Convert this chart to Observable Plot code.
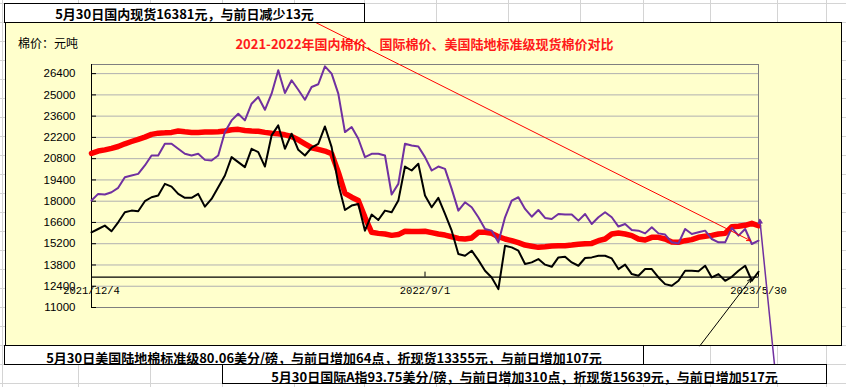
<!DOCTYPE html>
<html><head><meta charset="utf-8">
<script src="https://cdn.jsdelivr.net/npm/d3@7"></script>
<script src="https://cdn.jsdelivr.net/npm/@observablehq/plot@0.6"></script>
<style>
html,body{margin:0;padding:0;}
body{width:846px;height:387px;position:relative;overflow:hidden;background:#fff;font-family:"Noto Sans CJK SC",sans-serif;}
#cells{position:absolute;left:0;top:0;width:846px;height:387px;background-image:linear-gradient(to bottom,#d4d4d4 0,#d4d4d4 1px,transparent 1px);background-size:100% 19px;background-position:0 3px;}
.vcell{position:absolute;top:0;width:1px;height:387px;background:#d4d4d4;}
#area{position:absolute;left:5px;top:22px;width:837px;height:324px;background:#FFFFCC;border:1px solid #000;box-sizing:border-box;}
#chart{position:absolute;left:0;top:0;}
.box{position:absolute;background:#fff;border:1px solid #000;box-sizing:border-box;text-align:center;font-weight:bold;font-size:13px;white-space:nowrap;color:#000;line-height:19px;}
#unit{position:absolute;left:18px;top:34px;font-size:12px;color:#000;}
#title{position:absolute;left:0;width:849px;top:34px;text-align:center;font-size:13px;font-weight:bold;color:#ff1a1a;white-space:nowrap;}
</style>
</head><body>
<div id="cells"></div>
<div id="area"></div>
<div id="unit">棉价：元吨</div>
<div id="title">2021-2022年国内棉价、国际棉价、美国陆地标准级现货棉价对比</div>
<div id="chart"></div>
<div class="box" id="top" style="left:4px;top:3px;width:361px;height:20px;">5月30日国内现货16381元，与前日减少13元</div>
<div class="box" id="b1" style="left:4px;top:345px;width:640px;height:20px;line-height:23px;">5月30日美国陆地棉标准级80.06美分/磅，与前日增加64点，折现货13355元，与前日增加107元</div>
<div class="box" id="b2" style="left:222px;top:364px;width:605px;height:20px;line-height:23px;">5月30日国际A指93.75美分/磅，与前日增加310点，折现货15639元，与前日增加517元</div>
<script>
// ---- data (101 samples evenly spaced in time) ----
const dateLabels = ["2021/12/4", "2022/9/1", "2023/5/30"];
const dateTickIndex = [0, 50, 100];
const yTicks = [11000, 12400, 13800, 15200, 16600, 18000, 19400, 20800, 22200, 23600, 25000, 26400];
const yDomain = [11000, 27000];
const axisCross = 13000;

// 国内现货 (red)
const domestic = [21150,21300,21380,21480,21600,21780,21930,22070,22220,22400,
22480,22500,22530,22620,22570,22530,22530,22550,22550,22570,
22620,22700,22730,22660,22620,22600,22530,22480,22440,22370,
22260,22040,21780,21520,21410,21300,21120,19910,18520,18260,
18040,16940,15950,15880,15840,15750,15800,16020,16000,16000,
16020,15930,15840,15770,15660,15550,15510,15580,15950,15950,
15880,15660,15510,15400,15270,15110,15030,14960,15000,15050,
15070,15070,15110,15160,15200,15220,15400,15510,15840,15910,
15840,15730,15510,15440,15620,15620,15510,15310,15290,15400,
15470,15620,15690,15750,15840,15880,16320,16350,16410,16540,16381];

// 国际A指折现货 (purple)
const international = [18040,18480,18440,18590,18880,19580,19690,19800,20350,21010,
21010,21780,21780,21450,21120,21010,21120,20720,20680,21010,
22550,23320,23760,23320,24420,24860,24020,25080,26620,25120,
25960,25340,24680,25520,25700,26880,26400,25080,22550,22880,
22110,20900,21120,21120,21010,18440,19140,21780,21670,21600,
20900,20020,20280,20130,18810,17380,17930,17600,16940,16170,
16060,15290,16940,18040,18260,17490,16980,17420,16900,16830,
17160,17120,17120,16720,17160,16500,16940,17270,16940,16330,
16500,16100,16060,15880,16280,15880,15800,15290,15220,16170,
15840,15950,16060,15510,15290,15290,16240,15730,16170,15180,15400];

// 美国陆地棉标准级折现货 (black)
const usUpland = [15950,16170,16390,16020,16610,17270,17380,17340,18000,18260,
18370,19140,18960,18480,18220,18220,18480,17640,18150,18920,
19690,20900,20570,20240,21450,21230,20280,22330,22990,21450,
22440,21380,21010,21520,21780,22920,21560,19140,17420,17710,
17820,16060,17120,16760,17380,17270,18040,20280,20020,20460,
18370,17600,18220,17160,16060,14520,14410,14740,14120,13420,
12980,12210,15070,14960,14740,13860,13970,14190,13820,13680,
14300,14340,13970,13750,14260,14300,14410,14410,14230,13530,
13820,13200,13090,13530,13530,12980,12540,12430,12760,13420,
13420,13380,13750,12980,13200,12760,13020,13420,13750,12760,13355];

// callout connector lines (data space: sample index, price)
const callouts = [
  {x1: 33.5, y1: 29790, x2: 98.8, y2: 15400, color: "#ff0000", w: 1},
  {x1: 91.2, y1: 8470, x2: 98.9, y2: 12890, color: "#000000", w: 1},
  {x1: 102.4, y1: 7220, x2: 100.2, y2: 16790, color: "#7030a0", w: 1.5}
];

// ---- build ----
const idx = domestic.map((_, i) => i);
const rows = (arr) => arr.map((v, i) => ({i: idx[i], v}));

// spreadsheet column lines
const colLines = [2, 78, 150, 222, 294, 364, 436, 508, 580, 643, 710, 777, 826];
for (const c of colLines) {
  const d = document.createElement("div");
  d.className = "vcell"; d.style.left = c + "px";
  document.getElementById("cells").appendChild(d);
}

const plot = Plot.plot({
  width: 846, height: 387,
  marginLeft: 91, marginRight: 88, marginTop: 64, marginBottom: 80,
  x: {domain: [0, 100], axis: null},
  y: {domain: yDomain, axis: null},
  style: {background: "transparent", overflow: "visible", fontFamily: "'Liberation Sans', Arial, sans-serif", color: "#000"},
  marks: [
    Plot.gridY(yTicks.slice(1), {stroke: "#b0b0b0", strokeOpacity: 1}),
    Plot.frame({stroke: "#7f7f7f"}),
    Plot.ruleX([0], {stroke: "#000"}),
    Plot.ruleY(yTicks, {x1: 0, x2: 0.75, stroke: "#000"}),
    Plot.axisY(yTicks, {tickSize: 0, tickPadding: 16, fontSize: 11.5, label: null, tickFormat: d => String(d)}),
    Plot.ruleY([axisCross], {stroke: "#000", strokeWidth: 1.4}),
    Plot.ruleX(dateTickIndex, {y1: axisCross, y2: axisCross + 330, stroke: "#000"}),
    Plot.text(dateTickIndex, {x: d => d, y: axisCross, text: (d, i) => dateLabels[i], dy: 13, fontFamily: "'Liberation Mono', monospace", fontSize: 10.5, fill: "#000"}),
    Plot.line(rows(domestic), {x: "i", y: "v", stroke: "#ff0000", strokeWidth: 5.5, strokeLinejoin: "round"}),
    Plot.line(rows(international), {x: "i", y: "v", stroke: "#7030a0", strokeWidth: 2}),
    Plot.line(rows(usUpland), {x: "i", y: "v", stroke: "#000000", strokeWidth: 2}),
    Plot.arrow(callouts, {x1: "x1", y1: "y1", x2: "x2", y2: "y2", stroke: d => d.color, strokeWidth: d => d.w, headLength: 6, headAngle: 50})
  ]
});
document.getElementById("chart").appendChild(plot);
</script>
</body></html>
